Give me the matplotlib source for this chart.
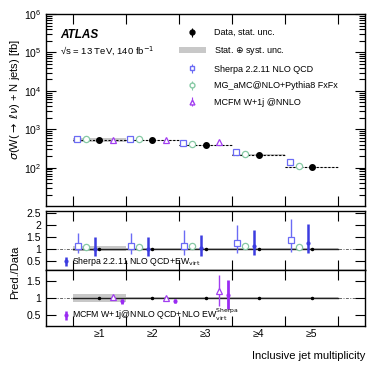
import numpy as np
import matplotlib
matplotlib.use("Agg")
import matplotlib.pyplot as plt
from matplotlib.patches import Patch

plt.rcParams['font.family'] = ['Liberation Sans', 'DejaVu Sans']
plt.rcParams['mathtext.fontset'] = 'dejavusans'

# jet multiplicity bins
bins = [1, 2, 3, 4, 5]
tick_labels = ['≥1', '≥2', '≥3', '≥4', '≥5']

# measured cross sections [fb] and relative uncertainties
data = [518, 515, 380, 212, 103]
data_stat = [0.01, 0.01, 0.01, 0.01, 0.02]
data_tot = [0.12, 0.04, 0.04, 0.04, 0.04]

# ratios to data
sherpa_ratio = [1.10, 1.10, 1.13, 1.22, 1.35]
sherpa_hi = [1.66, 1.66, 1.76, 2.00, 2.22]
sherpa_lo = [0.80, 0.78, 0.75, 0.80, 0.84]

mg_ratio = [1.08, 1.08, 1.09, 1.09, 1.08]
mg_hi = [1.12, 1.12, 1.13, 1.13, 1.12]
mg_lo = [1.04, 1.04, 1.05, 1.05, 1.04]

sherpa_ew_ratio = [1.00, 1.00, 1.02, 1.10, 1.22]
sherpa_ew_hi = [1.48, 1.48, 1.58, 1.79, 2.04]
sherpa_ew_lo = [0.70, 0.70, 0.68, 0.72, 0.82]

mcfm_ratio = [1.02, 1.01, 1.21]
mcfm_hi = [1.05, 1.04, 1.65]
mcfm_lo = [0.99, 0.98, 0.78]

mcfm_ew_ratio = [0.91, 0.91, 1.10]
mcfm_ew_hi = [0.98, 0.97, 1.53]
mcfm_ew_lo = [0.84, 0.85, 0.70]

c_sherpa = '#6b6bf5'
c_mg = '#86c9a4'
c_mcfm = '#a23ef0'
c_sherpa_ew = '#3c3ce0'
c_mcfm_ew = '#9a2cf2'
c_band = '#c8c8c8'

x = np.array(bins, dtype=float)
data = np.array(data)
fs = 7.5

fig = plt.figure(figsize=(3.74, 3.70), dpi=100)
ax = fig.add_axes([0.123, 0.443, 0.853, 0.519])
r1 = fig.add_axes([0.123, 0.270, 0.853, 0.160])
r2 = fig.add_axes([0.123, 0.119, 0.853, 0.151])

# ---- main panel
for i in range(5):
    lo, hi = x[i] - 0.5, x[i] + 0.5
    ax.fill_between([lo, hi], data[i] * (1 - data_tot[i]), data[i] * (1 + data_tot[i]),
                    color=c_band, lw=0, zorder=1)
    ax.plot([lo, hi], [data[i], data[i]], ls=(0, (2, 1.5)), color='k', lw=0.8, zorder=2)

ax.errorbar(x, data, yerr=data * np.array(data_stat), fmt='o', color='k', ms=4,
            capsize=1.5, elinewidth=0.8, zorder=5)
ax.errorbar(x - 0.42, data * np.array(sherpa_ratio), fmt='s', mfc='white', mec=c_sherpa,
            color=c_sherpa, ms=4.5, mew=0.9, zorder=4)
ax.errorbar(x - 0.25, data * np.array(mg_ratio), fmt='o', mfc='white', mec=c_mg,
            color=c_mg, ms=4.5, mew=0.9, zorder=4)
ax.errorbar(x[:3] + 0.26, data[:3] * np.array(mcfm_ratio), fmt='^', mfc='white', mec=c_mcfm,
            color=c_mcfm, ms=4.5, mew=0.9, zorder=4)

ax.set_yscale('log')
ax.set_ylim(10, 1e6)
ax.set_xlim(0, 6)
ax.set_yticks([1e2, 1e3, 1e4, 1e5, 1e6])

ax.text(0.045, 0.875, 'ATLAS', transform=ax.transAxes, fontsize=8.5,
        fontweight='bold', fontstyle='italic')
ax.text(0.045, 0.795, r'√s = 13 TeV, 140 fb$^{-1}$', transform=ax.transAxes, fontsize=6.8)

h_data = ax.errorbar([], [], yerr=[], fmt='o', color='k', ms=3.5, capsize=1.5, elinewidth=0.8)
h_band = Patch(color=c_band, lw=0)
h_sh = ax.errorbar([], [], yerr=[], fmt='s', mfc='white', mec=c_sherpa, color=c_sherpa,
                   ms=3.5, capsize=1.5, elinewidth=0.8)
h_mg = ax.errorbar([], [], yerr=[], fmt='o', mfc='white', mec=c_mg, color=c_mg,
                   ms=3.5, capsize=1.5, elinewidth=0.8)
h_mc = ax.errorbar([], [], yerr=[], fmt='^', mfc='white', mec=c_mcfm, color=c_mcfm,
                   ms=3.5, capsize=1.5, elinewidth=0.8)
ax.legend([h_data, h_band, h_sh, h_mg, h_mc],
          ['Data, stat. unc.', r'Stat. $\oplus$ syst. unc.', 'Sherpa 2.2.11 NLO QCD',
           'MG_aMC@NLO+Pythia8 FxFx', 'MCFM W+1j @NNLO'],
          loc='upper left', bbox_to_anchor=(0.405, 0.945), frameon=False, fontsize=6.5,
          handlelength=3.0, handletextpad=0.9, labelspacing=0.85, borderaxespad=0)

# ---- ratio panels
for r in (r1, r2):
    for i in range(5):
        lo, hi = x[i] - 0.5, x[i] + 0.5
        r.fill_between([lo, hi], 1 - data_tot[i], 1 + data_tot[i], color=c_band, lw=0, zorder=1)
    r.axhline(1, color='#666666', lw=0.7, ls=(0, (3, 1.5, 1, 1.5)), zorder=0)
    r.plot([0.5, 5.5], [1, 1], color='#222222', lw=1.0, zorder=2)
    r.plot(x, np.ones(5), 'o', color='k', ms=1.5, zorder=3)
    r.set_xlim(0, 6)

r1.errorbar(x - 0.4, sherpa_ratio,
            yerr=[np.array(sherpa_ratio) - sherpa_lo, np.array(sherpa_hi) - sherpa_ratio],
            fmt='s', mfc='white', mec=c_sherpa, color=c_sherpa, ms=4.5, mew=0.9,
            elinewidth=1.0, zorder=5)
r1.errorbar(x - 0.25, mg_ratio,
            yerr=[np.array(mg_ratio) - mg_lo, np.array(mg_hi) - mg_ratio],
            fmt='o', mfc='white', mec=c_mg, color=c_mg, ms=4.5, mew=0.9,
            elinewidth=1.0, zorder=5)
r1.errorbar(x - 0.08, sherpa_ew_ratio,
            yerr=[np.array(sherpa_ew_ratio) - sherpa_ew_lo, np.array(sherpa_ew_hi) - sherpa_ew_ratio],
            fmt='o', color=c_sherpa_ew, ms=2, elinewidth=1.8, zorder=5)
r1.set_ylim(0.1, 2.58)
r1.set_yticks([0.5, 1, 1.5, 2, 2.5])
r1.set_yticklabels(['0.5', '1', '1.5', '2', '2.5'])
h_sew = r1.errorbar([], [], yerr=[], fmt='o', ms=2, color=c_sherpa_ew, elinewidth=1.8)
r1.legend([h_sew], [r'Sherpa 2.2.11 NLO QCD+EW$_{\rm virt}$'], loc='lower left',
          bbox_to_anchor=(0.045, -0.03), frameon=False, fontsize=6.3,
          handlelength=0.5, handletextpad=0.4, borderaxespad=0)

x3 = x[:3]
r2.errorbar(x3 + 0.26, mcfm_ratio,
            yerr=[np.array(mcfm_ratio) - mcfm_lo, np.array(mcfm_hi) - mcfm_ratio],
            fmt='^', mfc='white', mec=c_mcfm, color=c_mcfm, ms=4.5, mew=0.9,
            elinewidth=1.0, zorder=5)
r2.errorbar(x3 + 0.43, mcfm_ew_ratio,
            yerr=[np.array(mcfm_ew_ratio) - mcfm_ew_lo, np.array(mcfm_ew_hi) - mcfm_ew_ratio],
            fmt='o', color=c_mcfm_ew, ms=2, elinewidth=2.0, zorder=5)
r2.set_ylim(0.2, 1.8)
r2.set_yticks([0.5, 1, 1.5])
r2.set_yticklabels(['0.5', '1', '1.5'])
h_mew = r2.errorbar([], [], yerr=[], fmt='o', ms=2, color=c_mcfm_ew, elinewidth=1.8)
r2.legend([h_mew], [r'MCFM W+1j@NNLO QCD+NLO EW$^{\rm Sherpa}_{\rm virt}$'], loc='lower left',
          bbox_to_anchor=(0.045, -0.01), frameon=False, fontsize=6.3,
          handlelength=0.5, handletextpad=0.4, borderaxespad=0)

# ---- ticks and labels
edges = np.arange(0.5, 6.0, 1.0)
for a in (ax, r1, r2):
    a.set_xticks(edges)
    a.tick_params(which='both', direction='in', top=True, right=True, labelsize=fs,
                  width=0.8)
    a.tick_params(which='major', length=7)
    a.tick_params(which='minor', length=4)
    a.tick_params(axis='x', labelbottom=False)
    for s in a.spines.values():
        s.set_linewidth(1.0)

for i, lab in enumerate(tick_labels):
    r2.text(x[i], -0.06, lab, transform=r2.get_xaxis_transform(), ha='center', va='top',
            fontsize=fs)

r2.set_xlabel('Inclusive jet multiplicity', fontsize=fs + 0.5, loc='right', labelpad=18)
fig.text(0.04, 0.73, r'$\sigma$(W($\rightarrow$ $\ell\nu$) + N jets) [fb]', rotation=90,
         ha='center', va='center', fontsize=fs + 0.5)
fig.text(0.04, 0.265, 'Pred./Data', rotation=90, ha='center', va='center', fontsize=fs + 0.5)

fig.savefig('out.png', dpi=100)
